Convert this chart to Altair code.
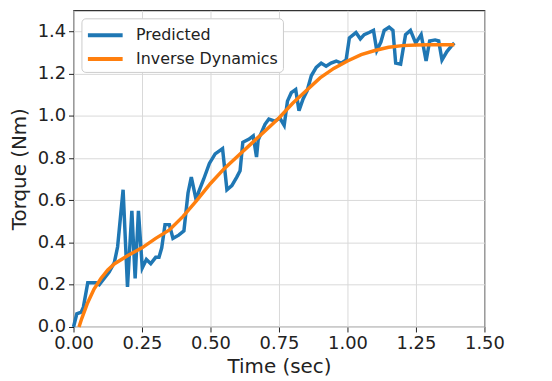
import altair as alt
import pandas as pd

pred_t = [0.0, 0.012, 0.028, 0.036, 0.052, 0.082, 0.094, 0.13, 0.149, 0.161, 0.181, 0.197, 0.213,
          0.225, 0.237, 0.251, 0.266, 0.282, 0.30, 0.312, 0.322, 0.334, 0.35, 0.363, 0.384, 0.403,
          0.418, 0.43, 0.448, 0.457, 0.475, 0.496, 0.517, 0.544, 0.56, 0.578, 0.596, 0.608, 0.618,
          0.641, 0.656, 0.668, 0.674, 0.699, 0.713, 0.735, 0.753, 0.769, 0.781, 0.795, 0.811, 0.823,
          0.838, 0.853, 0.868, 0.886, 0.904, 0.922, 0.94, 0.959, 0.977, 0.995, 1.007, 1.031, 1.047,
          1.061, 1.079, 1.095, 1.107, 1.122, 1.134, 1.152, 1.166, 1.176, 1.194, 1.212, 1.23, 1.249,
          1.269, 1.287, 1.30, 1.32, 1.333, 1.345, 1.363, 1.382, 1.39]
pred_v = [0.0, 0.0625, 0.07, 0.094, 0.21, 0.21, 0.20, 0.26, 0.305, 0.38, 0.65, 0.19, 0.55,
          0.23, 0.55, 0.28, 0.32, 0.30, 0.33, 0.33, 0.375, 0.485, 0.485, 0.42, 0.435, 0.455,
          0.635, 0.71, 0.60, 0.64, 0.70, 0.775, 0.82, 0.845, 0.65, 0.67, 0.71, 0.74, 0.875,
          0.89, 0.905, 0.805, 0.885, 0.96, 0.985, 0.975, 0.99, 0.955, 1.07, 1.11, 1.125, 1.025,
          1.08, 1.12, 1.19, 1.23, 1.25, 1.235, 1.25, 1.26, 1.25, 1.265, 1.37, 1.395, 1.365,
          1.385, 1.395, 1.405, 1.31, 1.35, 1.405, 1.42, 1.405, 1.25, 1.245, 1.385, 1.405, 1.345,
          1.385, 1.26, 1.355, 1.36, 1.355, 1.265, 1.305, 1.335, 1.345]

inv_t = [0.02, 0.03, 0.05, 0.075, 0.10, 0.125, 0.15, 0.20, 0.25, 0.30, 0.35, 0.40, 0.45, 0.50,
         0.55, 0.60, 0.65, 0.70, 0.75, 0.80, 0.85, 0.90, 0.95, 1.00, 1.05, 1.10, 1.15, 1.20,
         1.25, 1.30, 1.35, 1.39]
inv_v = [0.0, 0.04, 0.11, 0.18, 0.23, 0.27, 0.30, 0.34, 0.375, 0.42, 0.46, 0.524, 0.60, 0.68,
         0.75, 0.81, 0.87, 0.93, 0.99, 1.06, 1.12, 1.18, 1.225, 1.26, 1.29, 1.31, 1.325, 1.333,
         1.336, 1.337, 1.337, 1.337]

series = ["Predicted", "Inverse Dynamics"]
colors = ["#1f77b4", "#ff7f0e"]

df = pd.concat([
    pd.DataFrame({"t": pred_t, "v": pred_v, "s": series[0], "o": 0}),
    pd.DataFrame({"t": inv_t, "v": inv_v, "s": series[1], "o": 1}),
])

chart = alt.Chart(df).mark_line(strokeWidth=3.5).encode(
    x=alt.X("t:Q", title="Time (sec)",
            scale=alt.Scale(domain=[0, 1.5], nice=False),
            axis=alt.Axis(values=[0, 0.25, 0.5, 0.75, 1.0, 1.25, 1.5], format=".2f",
                          labelFlush=False)),
    y=alt.Y("v:Q", title="Torque (Nm)",
            scale=alt.Scale(domain=[0, 1.5], nice=False),
            axis=alt.Axis(values=[0, 0.2, 0.4, 0.6, 0.8, 1.0, 1.2, 1.4], format=".1f",
                          labelFlush=False)),
    color=alt.Color("s:N", scale=alt.Scale(domain=series, range=colors),
                    legend=alt.Legend(title=None, orient="top-left", offset=8,
                                      symbolType="M-1.75,0H1.75", symbolStrokeWidth=4,
                                      symbolSize=400, symbolOffset=7, labelFontSize=16,
                                      labelFont="DejaVu Sans", labelColor="#222",
                                      strokeColor="#cccccc", fillColor="white",
                                      cornerRadius=4, padding=5, rowPadding=4,
                                      labelOffset=19)),
    order="o:Q",
    detail="s:N",
).properties(
    width=414, height=319,
    autosize=alt.AutoSizeParams(type="none"),
    padding={"left": 66, "top": 1, "right": 60, "bottom": 50},
).configure_axis(
    labelFont="DejaVu Sans", titleFont="DejaVu Sans",
    labelFontSize=18, titleFontSize=20, labelColor="#222", titleColor="#222",
    titleFontWeight="normal", gridColor="#d9d9d9", gridWidth=1,
    domain=False, tickColor="#222", tickSize=5, labelPadding=3,
).configure_axisX(titlePadding=4).configure_axisY(titlePadding=8).configure_view(
    stroke="#333", strokeWidth=1.2
)

chart.save("out.html", embed_options={"renderer": "svg", "actions": False})
